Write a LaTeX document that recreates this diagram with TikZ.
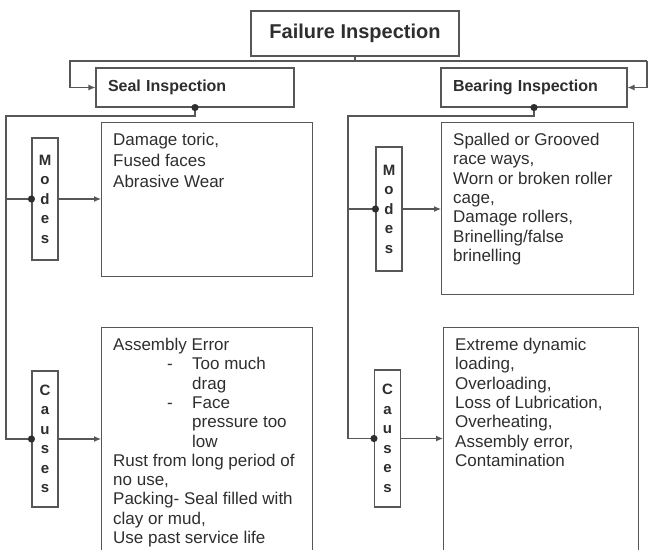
\documentclass[tikz,border=0pt]{standalone}
\usepackage{fontspec}
\setmainfont{Liberation Sans}
\usetikzlibrary{arrows.meta,calc}

\definecolor{linegray}{HTML}{575757}
\definecolor{inkgray}{HTML}{2E2E2E}

\newcommand{\causedash}{\makebox[79pt][l]{\hspace*{54pt}-}}
\newcommand{\causeindent}{\hspace*{79pt}}

\begin{document}
\begin{tikzpicture}[x=1pt, y=-1pt,
    title/.style={rectangle, draw=linegray, line width=1.1pt, fill=white, text=inkgray, font=\fontsize{20}{24}\selectfont\bfseries, minimum width=208pt, minimum height=45pt},
    group/.style={rectangle, draw=linegray, line width=1.1pt, fill=white, text=inkgray, font=\fontsize{16}{19}\selectfont\bfseries, minimum height=39pt, text width=#1, align=left, inner xsep=12pt},
    tag/.style={rectangle, draw=linegray, line width=1.1pt, fill=white, text=inkgray, font=\fontsize{15}{19.5}\selectfont\bfseries, minimum width=26pt, minimum height=#1, inner sep=0pt, align=center},
    listbox/.style 2 args={rectangle, draw=linegray, line width=1.1pt, anchor=north west, minimum width=#1, minimum height=#2, inner sep=0pt},
    list/.style={anchor=north west, text=inkgray, font=\fontsize{17}{19.3}\selectfont, align=left, inner xsep=12pt, inner ysep=11pt},
    link/.style={draw=linegray, line width=1.1pt},
    flow/.style={link, -{Latex[length=7pt,width=6pt]}}
]
    \clip (0,0) rectangle (648,549);

    % Top of the tree
    \node[title] (fail) at (355,33.5) {Failure Inspection};
    \node[group=174pt] (seal) at (195,87.5) {Seal Inspection};
    \node[group=162pt] (bearing) at (534,87.5) {Bearing Inspection};
    \coordinate (busL) at (70,61);
    \coordinate (busR) at (647,61);

    % Tags
    \node[tag=122pt] (sealM) at (45,199) {M\\o\\d\\e\\s};
    \node[tag=136pt] (sealC) at (45,439) {C\\a\\u\\s\\e\\s};
    \node[tag=124pt] (bearM) at (389,209) {M\\o\\d\\e\\s};
    \node[tag=137pt] (bearC) at (387.5,438.5) {C\\a\\u\\s\\e\\s};

    % Lists for the seal
    \node[listbox={211pt}{154pt}] (sealmodes) at (101,122) {};
    \node[list, font=\fontsize{17}{21}\selectfont] (sealmodestxt) at (sealmodes.north west) {Damage toric,\\Fused faces\\Abrasive Wear};
    \node[listbox={211pt}{240pt}] (sealcauses) at (101,327) {};
    \node[list] (sealcausestxt) at (sealcauses.north west) {Assembly Error\\
        \causedash Too much\\
        \causeindent drag\\
        \causedash Face\\
        \causeindent pressure too\\
        \causeindent low\\
        Rust from long period of\\
        no use,\\
        Packing- Seal filled with\\
        clay or mud,\\
        Use past service life};

    % Lists for the bearing
    \node[listbox={192pt}{172pt}] (bearmodes) at (441,122) {};
    \node[list] (bearmodestxt) at (bearmodes.north west) {Spalled or Grooved\\race ways,\\Worn or broken roller\\cage,\\Damage rollers,\\Brinelling/false\\brinelling};
    \node[listbox={195pt}{240pt}] (bearcauses) at (443,327) {};
    \node[list] (bearcausestxt) at (bearcauses.north west) {Extreme dynamic\\loading,\\Overloading,\\Loss of Lubrication,\\Overheating,\\Assembly error,\\Contamination};

    % Connexions
    \coordinate (spineL) at (6,116);
    \coordinate (spineR) at (348,116);
    \draw[link] (fail.south) -- (fail.south |- busL);
    \draw[flow] (busR) -- (busL) |- (seal.west);
    \draw[flow] (busR) |- (bearing.east);

    \draw[link] (seal.south) |- (spineL) |- (sealC.west);
    \draw[link] (spineL |- sealM.west) -- (sealM.west);
    \draw[flow] (sealM.east) -- (sealmodes.west |- sealM.east);
    \draw[flow] (sealC.east) -- (sealcauses.west |- sealC.east);

    \draw[link] (bearing.south) |- (spineR) |- (bearC.west);
    \draw[link] (spineR |- bearM.west) -- (bearM.west);
    \draw[flow] (bearM.east) -- (bearmodes.west |- bearM.east);
    \draw[flow] (bearC.east) -- (bearcauses.west |- bearC.east);

    \foreach \dot in {seal.south, bearing.south, sealM.west, sealC.west, bearM.west, bearC.west}
        \fill[inkgray] (\dot) circle (3.6pt);
\end{tikzpicture}
\end{document}
